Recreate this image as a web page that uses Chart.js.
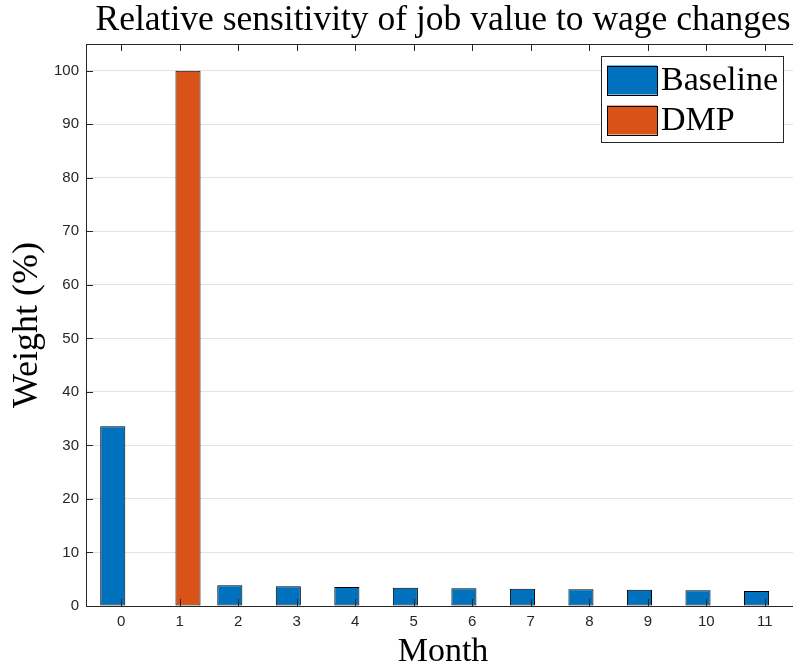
<!DOCTYPE html>
<html>
<head>
<meta charset="utf-8">
<title>Relative sensitivity of job value to wage changes</title>
<script src="https://cdn.jsdelivr.net/npm/chart.js@4.4.1/dist/chart.umd.min.js"></script>
<style>
  html, body { margin: 0; padding: 0; background: #ffffff; overflow: hidden; }
  #wrap { position: relative; width: 812px; height: 670px; }
</style>
</head>
<body>
<div id="wrap"><canvas id="chart"></canvas></div>
<script>
// Months after the wage change
const months = [0, 1, 2, 3, 4, 5, 6, 7, 8, 9, 10, 11];
// Weight (%) of each month in the job value response
const baselineWeights = [33.6, 0, 3.87, 3.68, 3.55, 3.42, 3.30, 3.23, 3.12, 3.05, 2.93, 2.80];
const dmpWeights      = [0, 100, 0, 0, 0, 0, 0, 0, 0, 0, 0, 0];
const seriesNames = ['Baseline', 'DMP'];
const yTicks = [0, 10, 20, 30, 40, 50, 60, 70, 80, 90, 100];

const TITLE = 'Relative sensitivity of job value to wage changes';
const AXIS_COLOR = '#262626';
const SERIF = '"Liberation Serif", "Times New Roman", serif';
const SANS = '"Liberation Sans", Arial, Helvetica, sans-serif';

// Title centred over the plot area
const plotTitle = {
  id: 'plotTitle',
  afterDraw(chart) {
    const { ctx, chartArea } = chart;
    ctx.save();
    ctx.fillStyle = '#000';
    ctx.font = '35.5px ' + SERIF;
    ctx.textAlign = 'center';
    ctx.textBaseline = 'alphabetic';
    ctx.fillText(TITLE, (chartArea.left + chartArea.right) / 2, 30);
    ctx.restore();
  }
};

// Boxed axes with inward tick marks on all four sides
const boxAxes = {
  id: 'boxAxes',
  afterDatasetsDraw(chart) {
    const { ctx, chartArea: a, scales } = chart;
    const len = 7;
    ctx.save();
    ctx.strokeStyle = AXIS_COLOR;
    ctx.lineWidth = 1;
    ctx.beginPath();
    scales.x.ticks.forEach(t => {
      const px = Math.round(scales.x.getPixelForValue(t.value)) + 0.5;
      ctx.moveTo(px, a.bottom); ctx.lineTo(px, a.bottom - len);
      ctx.moveTo(px, a.top); ctx.lineTo(px, a.top + len);
    });
    scales.y.ticks.forEach(t => {
      const py = Math.round(scales.y.getPixelForValue(t.value)) + 0.5;
      ctx.moveTo(a.left, py); ctx.lineTo(a.left + len, py);
      ctx.moveTo(a.right, py); ctx.lineTo(a.right - len, py);
    });
    ctx.stroke();
    ctx.strokeRect(Math.round(a.left) + 0.5, Math.round(a.top) + 0.5,
                   Math.round(a.right - a.left), Math.round(a.bottom - a.top));
    ctx.restore();
  }
};

// Legend box in the upper right corner of the plot
const insetLegend = {
  id: 'insetLegend',
  afterDraw(chart) {
    const { ctx, chartArea: a } = chart;
    const w = 182, h = 86;
    const x0 = a.right - 17 - w, y0 = a.top + 12;
    ctx.save();
    ctx.fillStyle = '#fff';
    ctx.fillRect(x0, y0, w, h);
    ctx.strokeStyle = AXIS_COLOR;
    ctx.lineWidth = 1;
    ctx.strokeRect(Math.round(x0) + 0.5, Math.round(y0) + 0.5, w, h);
    ctx.font = '34px ' + SERIF;
    ctx.textBaseline = 'middle';
    ctx.textAlign = 'left';
    chart.data.datasets.forEach((ds, i) => {
      const cy = y0 + 24 + i * 40;
      ctx.fillStyle = ds.backgroundColor;
      ctx.fillRect(x0 + 6, cy - 14.5, 50, 29);
      ctx.strokeStyle = '#000';
      ctx.strokeRect(Math.round(x0 + 6) + 0.5, Math.round(cy - 14.5) + 0.5, 50, 29);
      ctx.fillStyle = '#000';
      ctx.fillText(ds.label, x0 + 60, cy + 1);
    });
    ctx.restore();
  }
};

const toPoints = vals => months.map((m, i) => ({ x: m, y: vals[i] }));

const barStyle = {
  borderColor: '#000000',
  borderWidth: 1,
  borderSkipped: false,
  categoryPercentage: 0.5714,
  barPercentage: 1.5
};

new Chart(document.getElementById('chart'), {
  type: 'bar',
  data: {
    datasets: [
      Object.assign({ label: seriesNames[0], data: toPoints(baselineWeights), backgroundColor: '#0072BD' }, barStyle),
      Object.assign({ label: seriesNames[1], data: toPoints(dmpWeights), backgroundColor: '#D95319' }, barStyle)
    ]
  },
  options: {
    responsive: true,
    maintainAspectRatio: false,
    animation: false,
    layout: { padding: { top: 44, right: 12, left: 0, bottom: 0 } },
    plugins: {
      legend: { display: false },
      title: { display: false },
      tooltip: { enabled: false }
    },
    scales: {
      x: {
        type: 'linear',
        min: -0.6,
        max: 11.6,
        offset: false,
        afterFit: s => { s.height = 64; },
        afterBuildTicks: s => { s.ticks = months.map(v => ({ value: v })); },
        grid: { display: false, drawTicks: false },
        border: { display: false },
        ticks: {
          padding: 7,
          color: AXIS_COLOR,
          font: { family: SANS, size: 15 },
          callback: v => String(v)
        },
        title: {
          display: true,
          text: 'Month',
          color: '#000',
          font: { family: SERIF, size: 34 },
          padding: { top: 0, bottom: -2 }
        }
      },
      y: {
        min: 0,
        max: 105,
        afterFit: s => { s.width = 86; },
        afterBuildTicks: s => { s.ticks = yTicks.map(v => ({ value: v })); },
        grid: { color: '#e3e3e3', drawTicks: false, lineWidth: 1 },
        border: { display: false },
        ticks: {
          padding: 7,
          color: AXIS_COLOR,
          font: { family: SANS, size: 15 }
        },
        title: {
          display: true,
          text: 'Weight (%)',
          color: '#000',
          font: { family: SERIF, size: 36 },
          padding: { top: 6, bottom: 0 }
        }
      }
    }
  },
  plugins: [plotTitle, boxAxes, insetLegend]
});
</script>
</body>
</html>
